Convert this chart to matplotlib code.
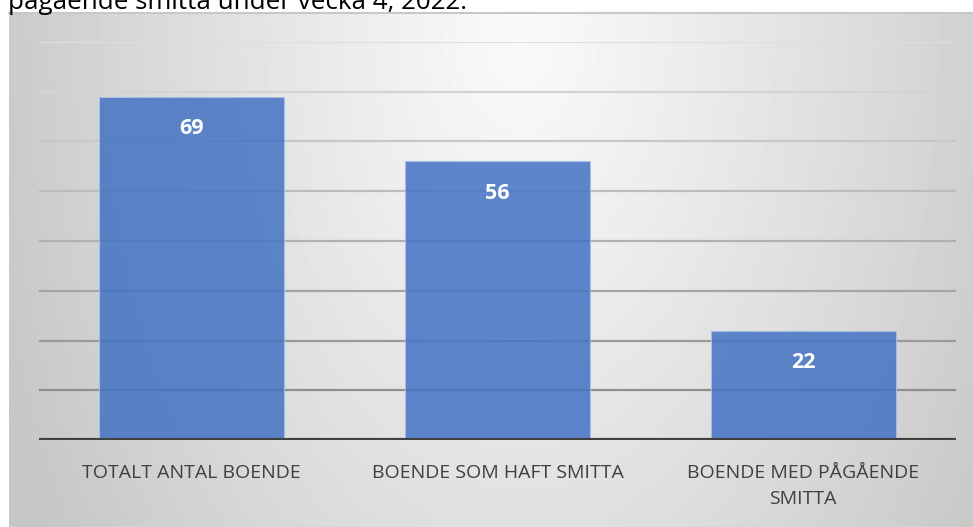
# -*- coding: utf-8 -*-

# Boende och smitta, vecka 4 2022 - stapeldiagram

import numpy as np
import matplotlib.pyplot as plt

# ------------------------
# donnees
kategorier = ["TOTALT ANTAL BOENDE", "BOENDE SOM HAFT SMITTA", "BOENDE MED PÅGÅENDE\nSMITTA"]
antal = [69, 56, 22]
rubrik = "pågående smitta under vecka 4, 2022."

plt.rcParams['font.family'] = ['Open Sans', 'DejaVu Sans']

W, H = 973, 527
fig = plt.figure(figsize=(W/100, H/100), dpi=100)

# fond en degrade (cadre du graphique)
bg = fig.add_axes([9/W, 0, 1 - 9/W, 1 - 13/H])
yy, xx = np.mgrid[13:H, 9:W]
r = np.sqrt(((xx - 520)/560.0)**2 + ((yy - 20)/950.0)**2)
val = 250 - 52*np.clip(r, 0, 1)**1.1
bg.imshow(val, cmap='gray', vmin=0, vmax=255, aspect='auto', interpolation='bilinear')
bg.set_axis_off()
# bordure du haut
fig.add_artist(plt.Line2D([9/W, 1], [1 - 13/H, 1 - 13/H], color='#c8c8c8', lw=1.5))

# axe principal
ax = fig.add_axes([39/W, 1 - 440/H, (956 - 39)/W, (440 - 42)/H])
ax.patch.set_alpha(0)
x = np.arange(len(kategorier))
barres = ax.bar(x, antal, width=0.605, color='#4472C4', alpha=0.85,
                edgecolor='#a9c0e8', linewidth=0.8, zorder=3)

ax.set_xlim(-0.5, len(kategorier) - 0.5)
ax.set_ylim(0, 80)
ax.set_yticks(np.arange(10, 81, 10))
ax.yaxis.grid(True, lw=1.6, zorder=0)
# lignes de grille de plus en plus foncees vers le bas (liste du bas vers le haut)
gris = np.linspace(0.56, 0.87, 8)
for g, ligne in zip(gris, ax.yaxis.get_gridlines()):
    ligne.set_color(str(g))
ax.axhline(0, color='#404040', lw=3, zorder=4)

for s in ax.spines.values():
    s.set_visible(False)
ax.tick_params(axis='y', left=False, labelleft=False)
ax.tick_params(axis='x', bottom=False, pad=14)
ax.set_xticks(x)
ax.set_xticklabels(kategorier, fontsize=14, color='#404040', linespacing=1.55)

# valeurs dans les barres
for b, v in zip(barres, antal):
    ax.annotate(str(v), (b.get_x() + b.get_width()/2, v), xytext=(0, -23),
                textcoords='offset points', ha='center', va='center',
                color='white', fontsize=15.5, fontweight='bold', zorder=5)

# titre coupe en haut
fig.text(8/W, 1 - 9/H, rubrik, fontsize=18.7, color='black', va='baseline', ha='left')

fig.savefig("out.png", dpi=100)
